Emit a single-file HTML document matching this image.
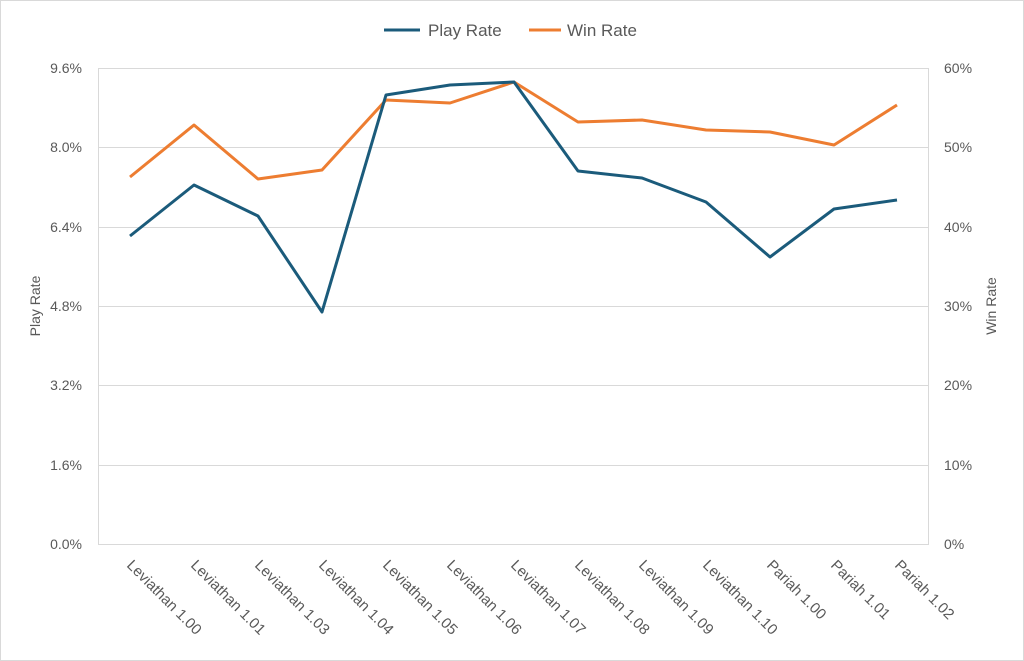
<!DOCTYPE html>
<html><head><meta charset="utf-8"><style>
html,body{margin:0;padding:0;background:#fff}
svg{display:block}
text{font-family:"Liberation Sans",sans-serif;fill:#595959}
</style></head><body>
<svg width="1024" height="661" viewBox="0 0 1024 661">
<rect x="0.5" y="0.5" width="1023" height="660" fill="#fff" stroke="#d9d9d9"/>
<g stroke="#d9d9d9" stroke-width="1">
<line x1="98" y1="68.5" x2="929" y2="68.5"/>
<line x1="98" y1="147.5" x2="929" y2="147.5"/>
<line x1="98" y1="227.5" x2="929" y2="227.5"/>
<line x1="98" y1="306.5" x2="929" y2="306.5"/>
<line x1="98" y1="385.5" x2="929" y2="385.5"/>
<line x1="98" y1="465.5" x2="929" y2="465.5"/>
<line x1="98" y1="544.5" x2="929" y2="544.5"/>
<line x1="98.5" y1="68" x2="98.5" y2="544"/>
<line x1="928.5" y1="68" x2="928.5" y2="544"/>
</g>
<g font-size="14" text-anchor="end">
<text x="82" y="73">9.6%</text><text x="82" y="152">8.0%</text><text x="82" y="232">6.4%</text>
<text x="82" y="311">4.8%</text><text x="82" y="390">3.2%</text><text x="82" y="470">1.6%</text><text x="82" y="549">0.0%</text>
</g>
<g font-size="14" text-anchor="start">
<text x="944" y="73">60%</text><text x="944" y="152">50%</text><text x="944" y="232">40%</text>
<text x="944" y="311">30%</text><text x="944" y="390">20%</text><text x="944" y="470">10%</text><text x="944" y="549">0%</text>
</g>
<text font-size="14" transform="translate(40,306) rotate(-90)" text-anchor="middle">Play Rate</text>
<text font-size="14" transform="translate(996,306) rotate(-90)" text-anchor="middle">Win Rate</text>
<g font-size="15">
<text transform="translate(126,566) rotate(45)">Leviathan 1.00</text>
<text transform="translate(190,566) rotate(45)">Leviathan 1.01</text>
<text transform="translate(254,566) rotate(45)">Leviathan 1.03</text>
<text transform="translate(318,566) rotate(45)">Leviathan 1.04</text>
<text transform="translate(382,566) rotate(45)">Leviathan 1.05</text>
<text transform="translate(446,566) rotate(45)">Leviathan 1.06</text>
<text transform="translate(510,566) rotate(45)">Leviathan 1.07</text>
<text transform="translate(574,566) rotate(45)">Leviathan 1.08</text>
<text transform="translate(638,566) rotate(45)">Leviathan 1.09</text>
<text transform="translate(702,566) rotate(45)">Leviathan 1.10</text>
<text transform="translate(766,566) rotate(45)">Pariah 1.00</text>
<text transform="translate(830,566) rotate(45)">Pariah 1.01</text>
<text transform="translate(894,566) rotate(45)">Pariah 1.02</text>
</g>
<polyline fill="none" stroke="#ed7d31" stroke-width="3" stroke-linejoin="round" points="130,177 194,125 258,179 322,170 386,100 450,103 514,82 578,122 642,120 706,130 770,132 834,145 897,105"/>
<polyline fill="none" stroke="#1b5b7b" stroke-width="3" stroke-linejoin="round" points="130,236 194,185 258,216 322,312 386,95 450,85 514,82 578,171 642,178 706,202 770,257 834,209 897,200"/>
<line x1="384" y1="30" x2="420" y2="30" stroke="#1b5b7b" stroke-width="3"/>
<text x="428" y="36" font-size="17">Play Rate</text>
<line x1="529" y1="30" x2="561" y2="30" stroke="#ed7d31" stroke-width="3"/>
<text x="567" y="36" font-size="17">Win Rate</text>
</svg>
</body></html>
